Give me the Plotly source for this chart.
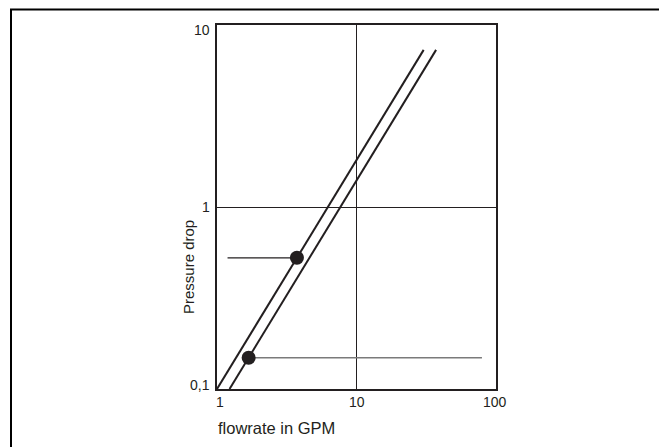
import math
import plotly.graph_objects as go

# Data
line1_x = [1.0, 30.3]
line1_y = [0.1, 7.3]
line2_x = [1.23, 37.2]
line2_y = [0.1, 7.3]
dot_x = [3.74, 1.686]
dot_y = [0.526, 0.1486]
ref1_x = [1.19, 3.74]
ref1_y = [0.526, 0.526]
ref2_x = [1.686, 79.3]
ref2_y = [0.1486, 0.1486]
x_tickvals = [1, 10, 100]
x_ticktext = ["1", "10", "100"]
y_tickvals = [0.1, 1, 10]
y_ticktext = ["0,1", "1", "10"]

INK = "#231f20"
FONT = "Liberation Sans, Arial, sans-serif"

# page body has an 8px default margin; lay out in window pixels minus that offset
OFF = 8
W, H = 667 - OFF, 447 - OFF
L, R, T, B = 217 - OFF, 496 - OFF, 25 - OFF, 389 - OFF
pw, ph = R - L, B - T


def px2paper_x(px):
    return (px - OFF - L) / pw


def px2paper_y(py):
    return (B - (py - OFF)) / ph


fig = go.Figure()
fig.add_trace(go.Scatter(x=ref1_x, y=ref1_y, mode="lines",
                         line=dict(color=INK, width=1.2), showlegend=False))
fig.add_trace(go.Scatter(x=ref2_x, y=ref2_y, mode="lines",
                         line=dict(color="#7a7a7a", width=1.5), showlegend=False))
fig.add_trace(go.Scatter(x=line1_x, y=line1_y, mode="lines",
                         line=dict(color=INK, width=2), showlegend=False))
fig.add_trace(go.Scatter(x=line2_x, y=line2_y, mode="lines",
                         line=dict(color=INK, width=2), showlegend=False))
fig.add_trace(go.Scatter(x=dot_x, y=dot_y, mode="markers",
                         marker=dict(color=INK, size=14), showlegend=False))

fig.add_shape(type="rect", xref="paper", yref="paper",
              x0=px2paper_x(11), x1=px2paper_x(663),
              y0=px2paper_y(470), y1=px2paper_y(9.5),
              line=dict(color="black", width=2), layer="below")

# tick labels (kept inside the plot's extent, as in the reference)
x_shifts = [3, 0, -1]
for v, t, s in zip(x_tickvals, x_ticktext, x_shifts):
    fig.add_annotation(text=t, x=math.log10(v), xref="x", y=px2paper_y(402), yref="paper",
                       xanchor="center", yanchor="middle", xshift=s, showarrow=False,
                       font=dict(family=FONT, size=14, color=INK))
y_shifts = [4, 0, -5]
for v, t, s in zip(y_tickvals, y_ticktext, y_shifts):
    fig.add_annotation(text=t, y=math.log10(v), yref="y", x=px2paper_x(211.5), xref="paper",
                       xanchor="right", yanchor="middle", yshift=s, showarrow=False,
                       font=dict(family=FONT, size=14, color=INK))

fig.add_annotation(text="flowrate in GPM", xref="paper", yref="paper",
                   x=px2paper_x(216), y=px2paper_y(428), xanchor="left", yanchor="middle",
                   showarrow=False, font=dict(family=FONT, size=16.5, color=INK))
fig.add_annotation(text="Pressure drop", xref="paper", yref="paper",
                   x=px2paper_x(188), y=px2paper_y(267), xanchor="center", yanchor="middle",
                   textangle=-90, showarrow=False, font=dict(family=FONT, size=15, color=INK))

fig.update_xaxes(type="log", range=[0, 2], tickvals=x_tickvals, showticklabels=False,
                 showgrid=True, gridcolor=INK, gridwidth=1,
                 showline=True, linecolor=INK, linewidth=2, mirror=True,
                 ticks="", zeroline=False)
fig.update_yaxes(type="log", range=[-1, 1], tickvals=y_tickvals, showticklabels=False,
                 showgrid=True, gridcolor=INK, gridwidth=1,
                 showline=True, linecolor=INK, linewidth=2, mirror=True,
                 ticks="", zeroline=False)

fig.update_layout(width=W, height=H, margin=dict(l=L, r=W - R, t=T, b=H - B),
                  plot_bgcolor="white", paper_bgcolor="white",
                  font=dict(family=FONT, color=INK))

fig.write_html("out.html")
